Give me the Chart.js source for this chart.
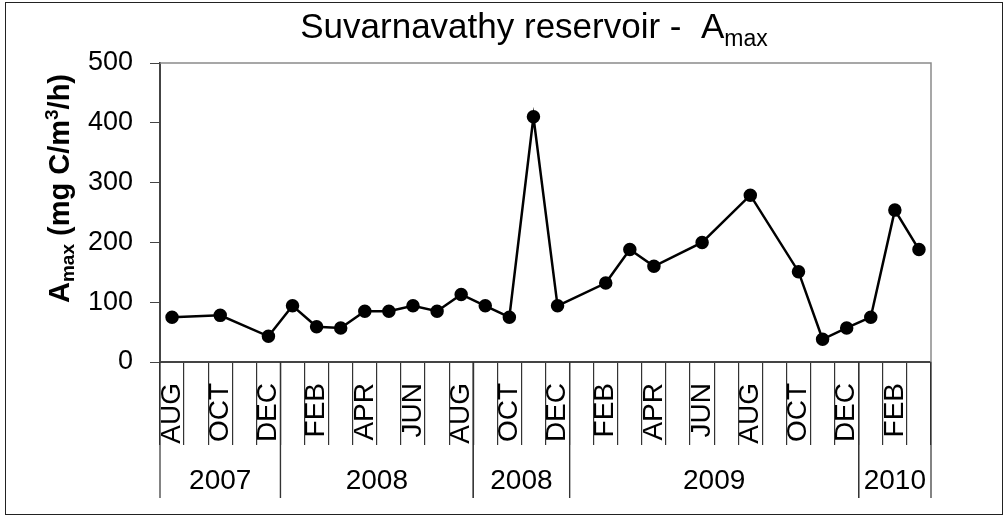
<!DOCTYPE html>
<html>
<head>
<meta charset="utf-8">
<script src="https://cdn.jsdelivr.net/npm/chart.js@4"></script>
<style>
  body { margin: 0; background: #fff; }
  #wrap { width: 1007px; height: 518px; }
</style>
</head>
<body>
<div id="wrap"><canvas id="chart"></canvas></div>
<script>
// categories: one per month, Aug 2007 .. Mar 2010
const months = ['AUG', 'SEP', 'OCT', 'NOV', 'DEC',
    'JAN', 'FEB', 'MAR', 'APR', 'MAY', 'JUN', 'JUL', 'AUG', 'SEP', 'OCT', 'NOV', 'DEC',
    'JAN', 'FEB', 'MAR', 'APR', 'MAY', 'JUN', 'JUL', 'AUG', 'SEP', 'OCT', 'NOV', 'DEC',
    'JAN', 'FEB', 'MAR'];

// Amax values (null = no sample that month)
const amax = [75, null, 78, null, 43,
    94, 59, 57, 85, 85, 94, 85, 113, 94, 75, 410, 94,
    null, 132, 188, 160, null, 200, null, 279, null, 151, 38, 57,
    75, 254, 188];

// year groups under the month labels
const yearLabels = ['2007', '2008', '2008', '2009', '2010'];
const yearSpans = [5, 8, 4, 12, 3];

const yTicks = [0, 100, 200, 300, 400, 500];

const FONT = '"Liberation Sans", Arial, sans-serif';

// title, y axis title, year row, borders
const extras = {
    id: 'extras',
    beforeDatasetsDraw(chart) {
        const ctx = chart.ctx;
        const a = chart.chartArea;
        ctx.save();
        ctx.strokeStyle = '#8a8a8a';
        ctx.lineWidth = 1.5;
        ctx.beginPath();
        ctx.moveTo(a.left, a.top);
        ctx.lineTo(a.right, a.top);
        ctx.lineTo(a.right, a.bottom);
        ctx.stroke();
        ctx.restore();
    },
    afterDraw(chart) {
        const ctx = chart.ctx;
        const x = chart.scales.x;
        const a = chart.chartArea;
        ctx.save();

        // outer frame
        ctx.strokeStyle = '#222';
        ctx.lineWidth = 1;
        ctx.strokeRect(5.5, 2.5, 997, 512);

        // title
        ctx.fillStyle = '#000';
        ctx.textBaseline = 'alphabetic';
        ctx.textAlign = 'left';
        const main = 'Suvarnavathy reservoir -  A';
        ctx.font = '23px ' + FONT;
        const subW = ctx.measureText('max').width;
        ctx.font = '35px ' + FONT;
        const mainW = ctx.measureText(main).width;
        let tx = 534 - (mainW + subW) / 2;
        ctx.fillText(main, tx, 38);
        ctx.font = '23px ' + FONT;
        ctx.fillText('max', tx + mainW, 46);

        // y axis title (rotated)
        ctx.save();
        ctx.translate(69, 303);
        ctx.rotate(-Math.PI / 2);
        const parts = [
            ['A', 29, 0], ['max', 19, 5], [' (mg C/m', 29, 0], ['3', 19, -11], ['/h)', 29, 0]
        ];
        let px = 0;
        parts.forEach(p => {
            ctx.font = 'bold ' + p[1] + 'px ' + FONT;
            ctx.fillText(p[0], px, p[2]);
            px += ctx.measureText(p[0]).width;
        });
        ctx.restore();

        // year separators and labels
        const half = (x.getPixelForValue(1) - x.getPixelForValue(0)) / 2;
        ctx.strokeStyle = '#333';
        ctx.lineWidth = 1.2;
        ctx.font = '28px ' + FONT;
        ctx.textAlign = 'center';
        ctx.textBaseline = 'middle';
        let start = 0;
        yearSpans.forEach((n, i) => {
            const l = x.getPixelForValue(start) - half;
            const r = x.getPixelForValue(start + n - 1) + half;
            ctx.beginPath();
            ctx.moveTo(l, a.bottom);
            ctx.lineTo(l, 498);
            ctx.moveTo(r, a.bottom);
            ctx.lineTo(r, 498);
            ctx.stroke();
            ctx.fillText(yearLabels[i], (l + r) / 2, 481);
            start += n;
        });
        ctx.restore();
    }
};

new Chart(document.getElementById('chart'), {
    type: 'line',
    data: {
        labels: months,
        datasets: [{
            data: amax,
            borderColor: '#000',
            backgroundColor: '#000',
            borderWidth: 2.5,
            pointRadius: 5.5,
            pointBackgroundColor: '#000',
            pointBorderColor: '#000',
            spanGaps: true,
            tension: 0
        }]
    },
    options: {
        responsive: true,
        maintainAspectRatio: false,
        animation: false,
        layout: { padding: { top: 63, right: 76, left: 0, bottom: 0 } },
        plugins: { legend: { display: false }, tooltip: { enabled: false } },
        scales: {
            x: {
                offset: true,
                grid: {
                    offset: true,
                    drawOnChartArea: false,
                    tickLength: 83,
                    color: '#333',
                    lineWidth: 1.2
                },
                border: { color: '#444', width: 2 },
                ticks: {
                    autoSkip: false,
                    minRotation: 90,
                    maxRotation: 90,
                    padding: -62,
                    color: '#000',
                    font: { family: FONT, size: 28 },
                    callback: (v, i) => i % 2 === 0 ? months[i] : ''
                },
                afterFit: s => { s.height = 156; }
            },
            y: {
                min: 0,
                max: 500,
                afterBuildTicks: s => { s.ticks = yTicks.map(v => ({ value: v })); },
                grid: { drawOnChartArea: false, tickLength: 10, color: '#444' },
                border: { color: '#444', width: 2 },
                ticks: {
                    padding: 17,
                    color: '#000',
                    font: { family: FONT, size: 27 }
                },
                afterFit: s => { s.width = 160; }
            }
        }
    },
    plugins: [extras]
});
</script>
</body>
</html>
